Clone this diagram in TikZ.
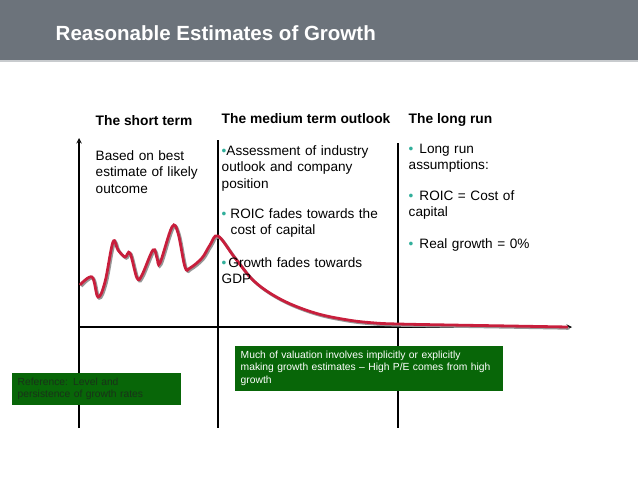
\documentclass[tikz,border=0pt]{standalone}
\usepackage{fontspec}
\setmainfont{Liberation Sans}
\usepackage{xcolor}
\usetikzlibrary{positioning}
\definecolor{bandgray}{RGB}{108,115,123}
\definecolor{bandline}{RGB}{200,203,206}
\definecolor{fadered}{RGB}{200,30,60}
\definecolor{shadowgray}{RGB}{150,150,150}
\definecolor{boxgreen}{RGB}{8,102,8}
\definecolor{darktext}{RGB}{25,50,25}
\definecolor{bulletteal}{RGB}{50,175,155}
\newcommand{\bul}{{\color{bulletteal}•}}

\begin{document}
\begin{tikzpicture}[x=1pt, y=-1pt, >=stealth, line width=1.4pt,
    head/.style={anchor=base west, inner sep=0pt, font=\fontsize{13.8}{16.7}\selectfont\bfseries},
    body/.style={anchor=base west, inner sep=0pt, align=left, text width=#1,
        font=\fontsize{13.6}{16.7}\selectfont},
    greenbox/.style={fill=boxgreen, anchor=north west, align=left, text width=#1,
        inner xsep=6pt, inner ysep=5pt, font=\fontsize{10.3}{12.6}\selectfont}]
    \useasboundingbox (0,0) rectangle (638,479);

    % title band
    \fill[bandgray] (0,0) rectangle (638,60);
    \fill[bandline] (0,60) rectangle (638,62);
    \node[anchor=base west, inner sep=0pt, white,
        font=\fontsize{20.5}{24}\selectfont\bfseries] (title) at (55,40)
        {Reasonable Estimates of Growth};

    % axes and dividers
    \coordinate (origin) at (79,327);
    \coordinate (ytop) at (79,138);
    \coordinate (ybot) at (79,428);
    \coordinate (xend) at (572,327);
    \coordinate (midtop) at (218,140);
    \coordinate (midbot) at (218,428);
    \coordinate (longtop) at (398,143);
    \coordinate (longbot) at (398,428);
    \draw[->] (ybot) -- (ytop);
    \draw[->] (origin) -- (xend);
    \draw (midtop) -- (midbot);
    \draw (longtop) -- (longbot);

    % growth path
    \foreach \dx/\col in {1.3/shadowgray, 0/fadered}
        \draw[\col, line width=2.8pt, shift={(\dx,\dx)}] plot[smooth, tension=0.6] coordinates
            {(80,285) (92,277) (98,297) (105,282) (113,242) (118,250) (125,257)
             (130,253) (137,278) (142,275) (153,250) (157,258) (160,263) (172,227)
             (178,233) (185,267) (190,268) (202,258) (210,245) (218,236) (235,258)
             (255,282) (282,300) (315,313) (348,320) (375,323) (398,324) (450,325)
             (510,326) (568,327)};

    % column headings
    \node[head] (short) at (95,125) {The short term};
    \node[head] (medium) at (221,123) {The medium term outlook};
    \node[head] (long) at (408,123) {The long run};

    % column texts
    \node[body=110pt] (best) at (95,160) {Based on best\\estimate of likely\\outcome};
    \node[body=170pt] (assess) at (221,155) {\bul Assessment of industry\\outlook and company\\position};
    \node[body=170pt] (roic) at (221,218) {\bul\hspace{4pt}ROIC fades towards the\\\hspace*{9pt}cost of capital};
    \node[body=170pt] (gdp) at (221,267) {\bul\hspace{2pt}Growth fades towards\\GDP};
    \node[body=150pt] (longrun) at (408,153) {\bul\hspace{6pt}Long run\\assumptions:};
    \node[body=150pt] (cost) at (408,200) {\bul\hspace{6pt}ROIC = Cost of\\capital};
    \node[body=150pt] (real) at (408,248) {\bul\hspace{6pt}Real growth = 0\%};

    % notes
    \node[greenbox=157pt, text=darktext] (reference) at (11,372)
        {Reference: Level and\\persistence of growth rates};
    \node[greenbox=256pt, text=white] (valuation) at (234,345)
        {Much of valuation involves implicitly or explicitly\\making growth estimates -- High P/E comes from high\\growth};
\end{tikzpicture}
\end{document}
